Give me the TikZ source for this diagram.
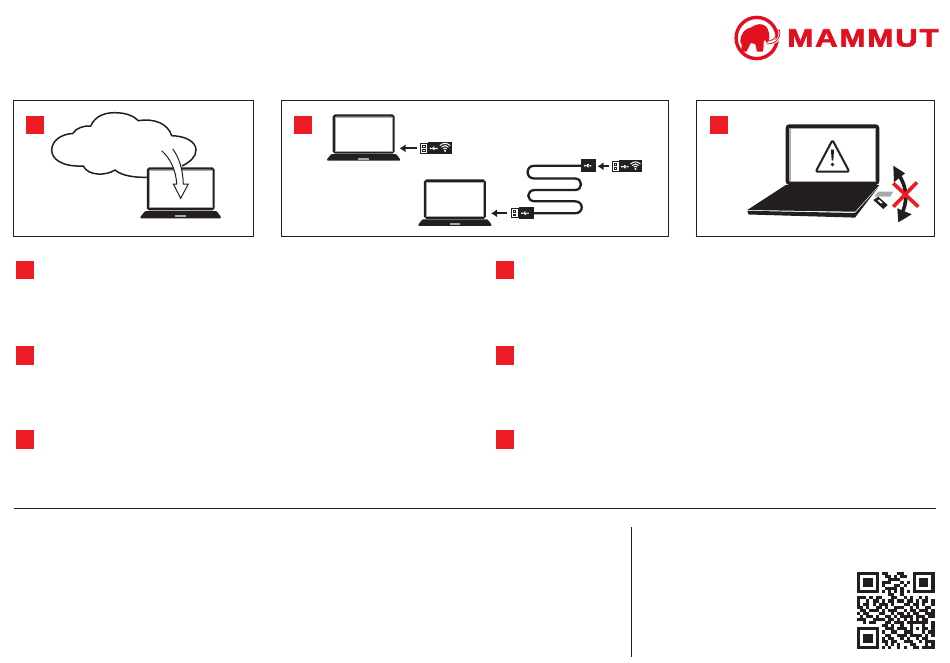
\documentclass[tikz,border=0pt]{standalone}
\usepackage{fontspec}
\newfontfamily\logofont[FakeBold=2.8,LetterSpace=8,FakeStretch=1.24]{Liberation Sans}
\definecolor{ink}{HTML}{231F20}
\definecolor{mred}{HTML}{ED1C24}
\definecolor{lred}{HTML}{E2101F}
\definecolor{mgray}{HTML}{A7A9AC}
\newcount\qrx
\newcount\qry
\def\qrrow#1#2\relax{\ifx#1e\else\if#11\fill[ink] ({857+3.1*\the\qrx},{571.5+3.1*\the\qry}) rectangle ++(3.15,3.15);\fi\advance\qrx by 1 \qrrow#2\relax\fi}
\def\qrline#1{\qrx=0 \qrrow#1e\relax\advance\qry by 1 }
\newcommand{\mlaptop}[3]{%
\begin{scope}[shift={(#1,#2)},scale=#3]
\draw[ink,fill=white,line width=2.3pt,rounded corners=1.5pt] (1.1,1.1) rectangle (60.7,38.2);
\draw[mgray,line width=.6pt] (2.6,2.6) rectangle (59.2,36.6);
\fill[ink,rounded corners=.8pt] (-5.7,46.4) -- (-5.7,45) -- (-1.5,39.8) -- (63.5,39.8) -- (67.5,45) -- (67.5,46.4) -- cycle;
\fill[mgray] (25.5,43.8) rectangle (36,45.2);
\end{scope}}
\newcommand{\musbicon}{%
\draw[white,line width=.7pt] (-3,0) -- (3,0) (-1,0) -- (0,-1.4) -- (1.4,-1.4) (-.6,0) -- (.4,1.3) -- (1.4,1.3);
\fill[white] (-3,0) circle (1pt) (3,-1) -- (4.6,0) -- (3,1) -- cycle;}
\newcommand{\mwifi}{%
\draw[white,line width=1pt] (-5.2,-2) .. controls (-2,-5) and (2,-5) .. (5.2,-2);
\draw[white,line width=1pt] (-3.4,-.4) .. controls (-1.2,-2.6) and (1.2,-2.6) .. (3.4,-.4);
\draw[white,line width=1pt] (-1.7,1.2) .. controls (-.6,.2) and (.6,.2) .. (1.7,1.2);
\fill[white] (0,3.2) circle (1.2pt);}
\newcommand{\mplug}{% connector, origin at its left middle
\draw[ink,fill=white,line width=.6pt] (.3,-5) rectangle (7.7,5);
\draw[ink,line width=.6pt] (2.7,-2.9) rectangle (5,-.9) (2.7,.9) rectangle (5,2.9);}
\newcommand{\mdongle}[3]{%
\begin{scope}[shift={(#1,#2)},scale=#3]
\fill[ink] (7.7,-6.3) rectangle (32.3,6.3);
\mplug
\begin{scope}[shift={(13.5,.4)}]\musbicon\end{scope}
\begin{scope}[shift={(25,-.4)}]\mwifi\end{scope}
\end{scope}}
\usetikzlibrary{arrows.meta}
\tikzset{
 panel/.style={draw=ink,line width=1pt,fill=white},
 redsq/.style={fill=mred},
 pusharrow/.style={ink,line width=2.2pt,-{Latex[length=6pt,width=8pt]}},
 rule/.style={ink,line width=1pt}
}
\begin{document}
\begin{tikzpicture}[x=1pt,y=-1pt]
\useasboundingbox (0,0) rectangle (950,662);
\fill[white] (0,0) rectangle (950,662);
% logo
\draw[lred,line width=3.4pt] (756.7,38) circle (20.6pt);
\fill[lred] (740.3,41.5) .. controls (740.5,34) and (745,28) .. (751,27.5)
 .. controls (754,25) and (759,23.5) .. (762.5,24.5) .. controls (767,25.5) and (769.5,31) .. (769.3,37)
 .. controls (769.2,40) and (768.5,42.5) .. (766.5,43.5) .. controls (767.2,41) and (765.5,39) .. (763.8,40.5)
 -- (763.6,47) -- (762.8,51.5) -- (757,51.5) -- (755.2,44) -- (750.8,43) -- (746.5,51.5) -- (741,51.5) -- (741.8,45) -- cycle;
\draw[white,line width=2.6pt] (767,44) .. controls (774,44) and (782,40) .. (779.5,29);
\draw[lred,line width=.8pt] (766,41.2) .. controls (772,41.5) and (778,38) .. (776.5,30.5);
\draw[lred,line width=.8pt] (767,44) .. controls (775,44) and (781.5,39) .. (779.5,30) -- (776.5,30.5);
\node[lred,inner sep=0pt,anchor=center,font=\logofont\bfseries\fontsize{25}{25}\selectfont] (logotext) at (863,38) {MAMMUT};
% panels
\draw[panel] (13.5,100.4) rectangle (253.4,236);
\draw[panel] (281.5,100.4) rectangle (668.3,236);
\draw[panel] (696.7,100.4) rectangle (934.3,236);
% red squares
\foreach \sx/\sy in {26/116,293.5/116,710/116,15.8/260.8,495.7/260.8,15.8/346.3,495.7/346.3,15.8/430.3,495.7/430.3}
 \fill[redsq] (\sx,\sy) rectangle ++(18.3,18.3);
% panel 1
\draw[ink,line width=1.5pt] (147,177.3) .. controls (135,177.5) and (122,176) .. (115,170)
 .. controls (106,176) and (88,176) .. (83.3,166)
 .. controls (62,167) and (51.5,159) .. (51.7,150) .. controls (52,140) and (62,134) .. (72.7,133.5)
 .. controls (76,128) and (84,125.5) .. (90.7,126) .. controls (95,116) and (105,112.5) .. (115,112.7)
 .. controls (126,112.7) and (134,116) .. (138.3,120.7) .. controls (155,118) and (168,124) .. (171.7,135.7)
 .. controls (186,136) and (196,142) .. (196,150) .. controls (196,157) and (190,162) .. (182,166);
\mlaptop{146.7}{167.3}{1.1}
\draw[ink,fill=white,line width=1pt,line join=miter] (161.7,150.7) .. controls (170,158) and (176,170) .. (176.7,184)
 -- (173.3,184) -- (180.7,198.3) -- (188.3,184) -- (183.3,184) .. controls (183,170) and (179,157) .. (172.7,149);
% panel 2
\mlaptop{332.7}{114.3}{1}
\mlaptop{424}{179.5}{1}
\mdongle{420}{148}{1}
\draw[pusharrow] (416.7,148.3) -- (399.5,148.3);
\mdongle{611.7}{166.3}{.95}
\draw[pusharrow] (609,166.3) -- (597.5,166.3);
\draw[ink,line width=2.3pt] (582,165.8) -- (534,165.8)
 .. controls (525.5,165.8) and (525.5,178.5) .. (534,178.5) -- (575,178.5)
 .. controls (583,178.5) and (583,190) .. (575,190) -- (535,190)
 .. controls (526,190) and (526,201.3) .. (535,201.3) -- (575,201.3)
 .. controls (584,201.3) and (584,213.3) .. (575,213.3) -- (533,213.3);
\fill[ink] (581,159.3) rectangle (595.7,172.3);
\begin{scope}[shift={(587.5,165.8)},scale=.9]\musbicon\end{scope}
\begin{scope}[shift={(511,213)},scale=.95]
\fill[ink] (8,-6.6) rectangle (24,6.6);
\mplug
\begin{scope}[shift={(14.5,.2)}]\musbicon\end{scope}
\end{scope}
\draw[pusharrow] (506.7,213.3) -- (491,213.3);
% panel 3
\draw[ink,fill=white,line width=3.6pt,rounded corners=2pt] (787.5,126.1) rectangle (877.5,183.2);
\draw[mgray,line width=.6pt] (789.9,128.6) rectangle (875.1,181);
\draw[ink,line width=2pt,line join=round,rounded corners=2pt] (832.5,140) -- (849.3,171.7) -- (815.7,171.7) -- cycle;
\fill[ink,rounded corners=.5pt] (830.9,149.5) -- (834.1,149.5) -- (833.3,160.5) -- (831.7,160.5) -- cycle;
\fill[ink] (832.5,164.5) circle (1.9pt);
\fill[ink] (785.7,185) -- (879.3,185) -- (855,211.7) -- (747.3,210) -- cycle;
\fill[ink] (747.3,210.8) -- (855,213) -- (879.3,186) -- (855,217.6) -- (748.5,214.5) -- cycle;
\fill[mgray] (878.3,191.7) -- (893.3,191.7) -- (890,196.7) -- (874.3,196.7) -- cycle;
\fill[ink] (873.3,200) -- (878.3,196.7) -- (887.7,205) -- (883.3,209) -- cycle;
\fill[white] (877.5,200.5) -- (879,199.5) -- (882.5,202.5) -- (881,203.5) -- cycle;
\draw[ink,line width=3.6pt] (899,175) .. controls (906,186) and (908,198) .. (903,211);
\fill[ink] (893.3,165.7) -- (905,173.3) -- (894,182.3) -- cycle;
\fill[ink] (897.3,208.3) -- (911.7,214.3) -- (898.3,222.3) -- cycle;
\draw[mred,line width=3.6pt] (893.3,183.3) -- (918.3,206.7) (917,182.3) -- (893.3,206.7);
% rules
\draw[rule] (14,508) -- (936,508);
\draw[ink,line width=.8pt] (631.5,527) -- (631.5,656.5);
% qr
\qry=0
\qrline{1111111011000110001111111}
\qrline{1000001001101011001000001}
\qrline{1011101000111100001011101}
\qrline{1011101011100010101011101}
\qrline{1011101010001101001011101}
\qrline{1000001001111010001000001}
\qrline{1111111010101010101111111}
\qrline{0000000000110010000000000}
\qrline{1110101100011001010010100}
\qrline{1001011010110110110101101}
\qrline{1011010111010001101101001}
\qrline{1101001101001110010100110}
\qrline{0110111010111001011011101}
\qrline{1011000110010110101100111}
\qrline{0101101001101011110111011}
\qrline{1110011110110101010101100}
\qrline{0010110001101110111111101}
\qrline{0000000011010010010001001}
\qrline{1111111001110111010101101}
\qrline{1000001010011001110001011}
\qrline{1011101001100111011110101}
\qrline{1011101010110010100101100}
\qrline{1011101011011001110010111}
\qrline{1000001001010100011000101}
\qrline{1111111010100101001101111}
\end{tikzpicture}
\end{document}
